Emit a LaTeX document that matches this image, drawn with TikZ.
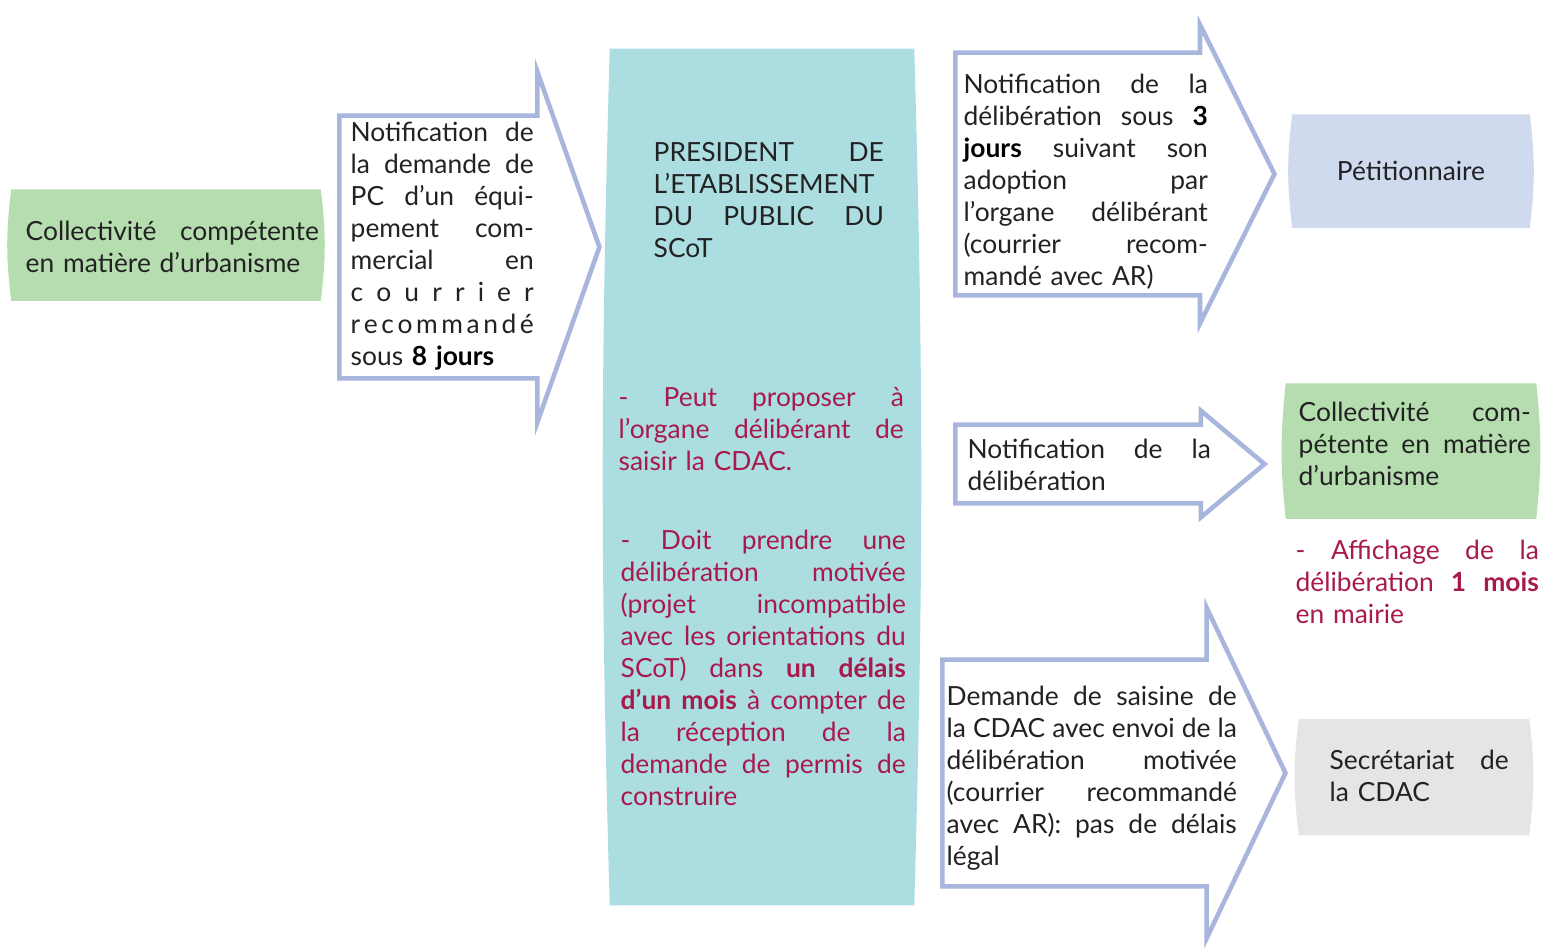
\documentclass[tikz,border=0pt]{standalone}
\usepackage{fontspec}
\setmainfont{Lato}
\usepackage{tikz}
\usetikzlibrary{shapes.arrows,backgrounds,positioning}
\usepackage{xcolor}
\definecolor{arrowblue}{HTML}{A8B6DE}
\definecolor{colgreen}{HTML}{B5DDAF}
\definecolor{scotteal}{HTML}{ABDDE1}
\definecolor{petblue}{HTML}{CFDAEE}
\definecolor{cdacgrey}{HTML}{E5E5E5}
\definecolor{notered}{HTML}{A8194C}
\definecolor{inkdark}{HTML}{222222}

\newcommand{\bodyfont}{\fontsize{7.5}{9.1}\selectfont}
% one justified line of a block
\newcommand{\jl}[1]{\leavevmode\hbox to\linewidth{\spaceskip=.5\fontdimen2\font plus 1fil\relax#1}\\}
\newcommand{\bk}[1]{\textbf{\color{black}#1}}

\begin{document}
\begin{tikzpicture}[x=0.01cm, y=-0.01cm,
  every node/.style={font=\bodyfont, text=inkdark},
  box/.style={rectangle, inner sep=0pt, align=center},
  flow/.style={single arrow, draw=arrowblue, line width=1.3pt, fill=white,
    anchor=tail, single arrow head indent=0pt, inner sep=0pt},
  txt/.style={inner sep=0pt, anchor=base west, align=left},
  note/.style={txt, text=notered}]
\useasboundingbox (0,0) rectangle (1544,947);

% boxes
\node[box, minimum width=3.08cm, minimum height=1.10cm] (coll) at (166,245) {};
\node[box, minimum width=3.03cm, minimum height=8.55cm] (scot) at (762,477) {};
\node[box, minimum width=2.36cm, minimum height=1.12cm] (petit) at (1411,171) {Pétitionnaire};
\node[box, minimum width=2.49cm, minimum height=1.34cm] (collb) at (1411,451) {};
\node[box, minimum width=2.29cm, minimum height=1.15cm] (cdac) at (1414,777) {};

\begin{scope}[on background layer]
\foreach \b/\c/\bend in {coll/colgreen/7, scot/scotteal/1.6, petit/petblue/7,
    collb/colgreen/6, cdac/cdacgrey/7}
  \fill[\c] (\b.north west) -- (\b.north east) to[bend left=\bend] (\b.south east)
    -- (\b.south west) to[bend left=\bend] cycle;
\end{scope}

% block arrows
\node[flow, minimum height=2.60cm, minimum width=3.50cm, text height=1.29cm, text depth=1.29cm,
  single arrow head extend=0.44cm, single arrow tip angle=141] (notif) at (337,247) {};
\node[flow, minimum height=3.19cm, minimum width=2.98cm, text height=1.19cm, text depth=1.19cm,
  single arrow head extend=0.28cm, single arrow tip angle=127] (delib) at (953,174) {};
\node[flow, minimum height=3.09cm, minimum width=1.05cm, text height=0.37cm, text depth=0.37cm,
  single arrow head extend=0.14cm, single arrow tip angle=80] (affich) at (953,464) {};
\node[flow, minimum height=3.43cm, minimum width=3.29cm, text height=1.11cm, text depth=1.11cm,
  single arrow head extend=0.52cm, single arrow tip angle=129] (saisine) at (940,773) {};

% texts
\node[txt, text width=2.93cm] (colltxt) at (25,240)
  {\jl{Collectivité compétente}en matière d’urbanisme};
\node[txt, text width=1.83cm] (notiftxt) at (350,141)
  {\jl{Notification de}\jl{la demande de}\jl{PC d’un équi-}\jl{pement com-}\jl{mercial en}%
   \jl{c\hfil o\hfil u\hfil r\hfil r\hfil i\hfil e\hfil r}%
   \jl{r\hfil e\hfil c\hfil o\hfil m\hfil m\hfil a\hfil n\hfil d\hfil é}sous \bk{8 jours}};
\node[txt, text width=2.30cm] (scottitle) at (653,161)
  {\jl{PRESIDENT DE}\jl{L’ETABLISSEMENT}\jl{DU PUBLIC DU}SCoT};
\node[note, text width=2.85cm] (peut) at (618,406)
  {\jl{- Peut proposer à}\jl{l’organe délibérant de}saisir la CDAC.};
\node[note, text width=2.85cm] (doit) at (620,549)
  {\jl{- Doit prendre une}\jl{délibération motivée}\jl{(projet incompatible}%
   \jl{avec les orientations du}\jl{SCoT) dans \textbf{un délais}}%
   \jl{\textbf{d’un mois} à compter de}\jl{la réception de la}\jl{demande de permis de}construire};
\node[txt, text width=2.44cm] (delibtxt) at (963,93)
  {\jl{Notification de la}\jl{délibération sous \bk{3}}\jl{\bk{jours} suivant son}\jl{adoption par}%
   \jl{l’organe délibérant}\jl{(courrier recom-}mandé avec AR)};
\node[txt, text width=2.43cm] (affichtxt) at (967,458)
  {\jl{Notification de la}délibération};
\node[txt, text width=2.32cm] (collbtxt) at (1298,421)
  {\jl{Collectivité com-}\jl{pétente en matière}d’urbanisme};
\node[note, text width=2.43cm] (mairie) at (1295,559)
  {\jl{- Affichage de la}\jl{délibération \textbf{1 mois}}en mairie};
\node[txt, text width=2.90cm] (saisinetxt) at (946,705)
  {\jl{Demande de saisine de}\jl{la CDAC avec envoi de la}\jl{délibération motivée}%
   \jl{(courrier recommandé}\jl{avec AR): pas de délais}légal};
\node[txt, text width=1.79cm] (cdactxt) at (1329,769)
  {\jl{Secrétariat de}la CDAC};
\end{tikzpicture}
\end{document}
